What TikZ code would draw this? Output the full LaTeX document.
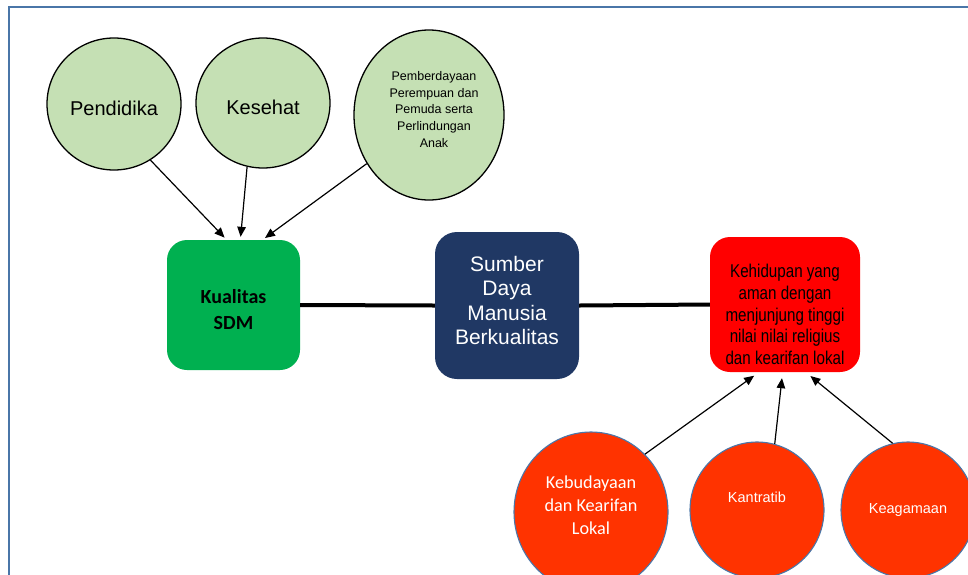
\documentclass[tikz,border=0pt]{standalone}
\usepackage{fontspec}
\setmainfont{Liberation Sans}
\newfontfamily\calibri{Carlito}
\newfontfamily\narrowfont[FakeStretch=0.82]{Liberation Sans}
\usepackage{tikz}
\usetikzlibrary{arrows.meta,shapes.geometric,positioning}
\definecolor{framebl}{HTML}{4A76A8}
\definecolor{lightgrn}{HTML}{C5E0B4}
\definecolor{sdmgreen}{HTML}{00B050}
\definecolor{navy}{HTML}{203864}
\definecolor{orangered}{HTML}{FF3300}
\tikzset{
    bubble/.style={ellipse, draw=black, line width=1.3pt, fill=lightgrn,
        inner sep=0pt, align=center},
    dot/.style={ellipse, draw=framebl, line width=1.1pt, fill=orangered,
        text=white, inner sep=0pt, align=center},
    box/.style={rectangle, rounded corners=20pt, inner sep=0pt, align=center},
    link/.style={line width=4pt},
    arrow/.style={-{Triangle[length=10pt,width=8.5pt]}, line width=1.2pt, shorten >=3pt},
    uparrow/.style={arrow, shorten >=6pt}
}

\begin{document}
\begin{tikzpicture}[x=1pt,y=-1pt]
    \useasboundingbox (0,0) rectangle (968,574);
    \clip (0,0) rectangle (968,574);
    \draw[framebl, line width=2.5pt] (9,590) |- (980,7);

    % inputs on top
    \node[bubble, minimum width=134pt, minimum height=132pt,
        label={[yshift=-4.5pt, font=\fontsize{20}{24}\selectfont]center:Pendidika}]
        (pend) at (114,104) {};
    \node[bubble, minimum width=134pt, minimum height=130pt,
        label={[yshift=-4.5pt, font=\fontsize{20}{24}\selectfont]center:Kesehat}]
        (kes) at (263,103) {};
    \node[bubble, minimum width=150pt, minimum height=170pt,
        label={[xshift=5pt, yshift=5.5pt, align=center, font=\fontsize{12.5}{16.8}\selectfont]center:{Pemberdayaan\\Perempuan dan\\Pemuda serta\\Perlindungan\\Anak}}]
        (pemb) at (429,115) {};

    % middle row
    \node[box, fill=sdmgreen, minimum width=133pt, minimum height=130pt,
        label={[yshift=-4.5pt, align=center, font=\calibri\bfseries\fontsize{20}{26}\selectfont]center:{Kualitas\\SDM}}]
        (kual) at (233.5,305) {};
    \node[box, fill=navy, rounded corners=22pt, minimum width=144pt, minimum height=147pt,
        label={[yshift=5pt, text=white, align=center, font=\fontsize{21}{24.5}\selectfont]center:{Sumber\\Daya\\Manusia\\Berkualitas}}]
        (sdm) at (507,305.5) {};
    \node[box, fill=red, minimum width=150pt, minimum height=135pt,
        label={[yshift=-10pt, align=center, font=\narrowfont\fontsize{18.5}{21.6}\selectfont]center:{Kehidupan yang\\aman dengan\\menjunjung tinggi\\nilai nilai religius\\dan kearifan lokal}}]
        (keh) at (785,304.5) {};

    % inputs below
    \node[dot, minimum width=154pt, minimum height=160pt,
        label={[yshift=7pt, text=white, align=center, font=\calibri\fontsize{18.2}{23}\selectfont]center:{Kebudayaan\\dan Kearifan\\Lokal}}]
        (keb) at (591,512) {};
    \node[dot, minimum width=134pt, minimum height=136pt,
        label={[yshift=13pt, text=white, font=\fontsize{14.5}{17}\selectfont]center:Kantratib}]
        (kan) at (757,510) {};
    \node[dot, minimum width=134pt, minimum height=136pt, font=\fontsize{14.5}{17}\selectfont]
        (kea) at (908,510) {Keagamaan};

    \draw[link] (kual.east) -- (sdm.west);
    \draw[link] (sdm.east) -- (keh.west);

    \draw[arrow] (pend.-57) -- (kual.96);
    \draw[arrow] (kes.-104) -- (kual.84);
    \draw[arrow] (pemb.218) -- (kual.66);
    \draw[uparrow] (keb.47) -- (keh.249);
    \draw[uparrow] (kan.75) -- (keh.268);
    \draw[uparrow] (kea.103) -- (keh.287);
\end{tikzpicture}
\end{document}
